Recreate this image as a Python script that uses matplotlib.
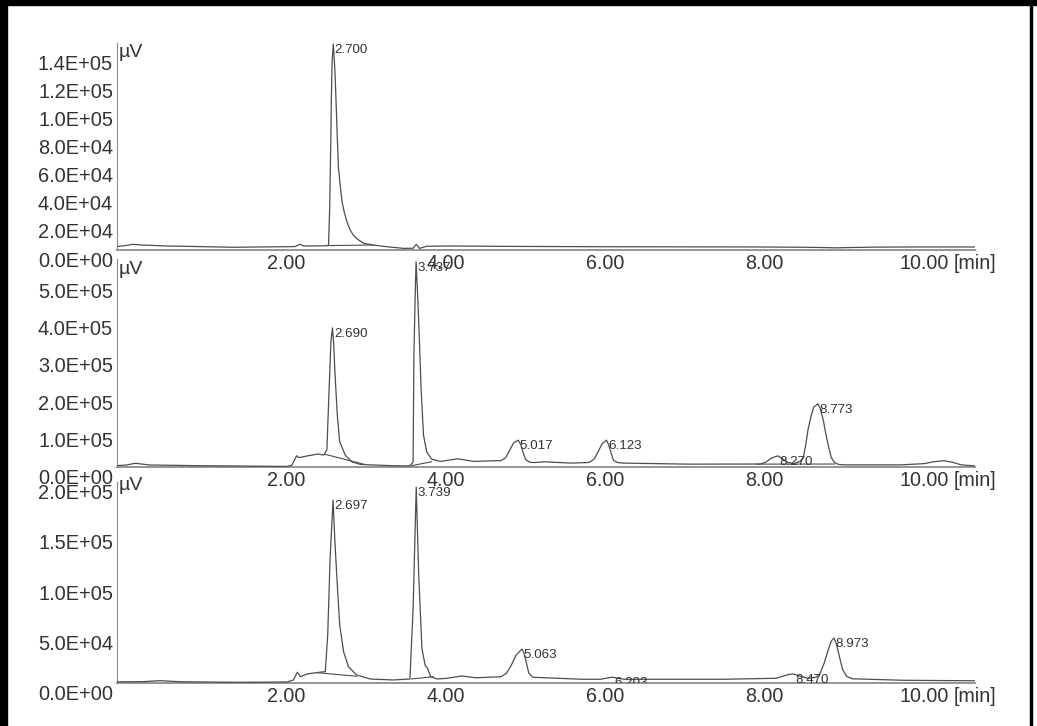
import numpy as np
import matplotlib
matplotlib.use("Agg")
import matplotlib.pyplot as plt
from matplotlib import transforms
from matplotlib.patches import Rectangle

plt.rcParams['font.family'] = ['Liberation Sans', 'DejaVu Sans']

# ---- data (time in min, signal in kilo-uV) ----
t1 = [0.00, 0.10, 0.19, 0.30, 0.61, 1.00, 1.44, 1.80, 2.12, 2.22, 2.28, 2.33, 2.45,
      2.62, 2.64, 2.655, 2.67, 2.675, 2.685, 2.700, 2.72, 2.735, 2.75, 2.765, 2.79,
      2.81, 2.84, 2.87, 2.91, 2.95, 3.00, 3.08, 3.20, 3.37, 3.58, 3.70, 3.74, 3.78,
      3.87, 4.16, 5.0, 6.0, 7.0, 8.0, 8.6, 9.0, 9.5, 10.0, 10.74]
v1 = [2.2, 2.8, 3.7, 3.2, 2.5, 2.1, 1.6, 1.8, 2.0, 2.1, 3.7, 2.5, 2.5,
      2.7, 3.0, 30, 81.6, 105, 134, 146.5, 128, 105, 80, 58, 44,
      34, 26, 20, 14, 10.3, 7.5, 4.4, 3.2, 2.0, 0.8, 0.9, 3.7, 0.8,
      2.3, 2.5, 2.2, 2.0, 1.9, 1.8, 1.6, 1.2, 1.7, 1.8, 1.8]

t2 = [0.00, 0.10, 0.22, 0.40, 1.03, 1.60, 2.12, 2.18, 2.24, 2.27, 2.37, 2.51, 2.58,
      2.62, 2.64, 2.655, 2.67, 2.690, 2.705, 2.72, 2.75, 2.78, 2.85, 2.93, 3.04, 3.20,
      3.45, 3.66, 3.70, 3.71, 3.725, 3.737, 3.755, 3.77, 3.80, 3.83, 3.87, 3.93, 4.04,
      4.26, 4.46, 4.75, 4.80, 4.86, 4.91, 4.96, 5.017, 5.05, 5.08, 5.11, 5.16, 5.22,
      5.35, 5.67, 5.89, 5.92, 5.97, 6.02, 6.07, 6.123, 6.15, 6.18, 6.21, 6.26, 6.33,
      7.14, 8.05, 8.12, 8.19, 8.270, 8.33, 8.40, 8.47, 8.55, 8.59, 8.62, 8.65, 8.69,
      8.72, 8.773, 8.80, 8.84, 8.87, 8.91, 8.94, 8.98, 9.03, 9.10, 9.81, 10.10, 10.22,
      10.35, 10.47, 10.57, 10.74]
v2 = [4, 5, 10, 5.4, 3.5, 2.5, 1.5, 4.5, 30, 25, 29.6, 35, 32,
      46, 167, 250, 337, 374, 330, 256, 140, 68, 32, 14, 7, 5.4,
      3.5, 2.7, 14, 301, 450, 552, 470, 391, 212, 86, 41, 21.5, 15,
      22, 15, 17, 17, 25, 45, 65, 72, 60, 38, 20, 13, 12,
      14, 10.5, 12, 14, 22, 42, 63, 72, 60, 38, 18, 12, 10.5,
      7.7, 8, 13, 24, 30, 22, 12, 9, 15, 27, 60, 103, 140,
      161, 170, 158, 125, 90, 50, 25, 12, 7, 5.7, 5.7, 9, 14,
      17, 12, 5.7, 3]

t3 = [0.00, 0.30, 0.53, 0.80, 1.50, 2.12, 2.20, 2.25, 2.29, 2.37, 2.49, 2.60, 2.63,
      2.66, 2.697, 2.72, 2.75, 2.78, 2.83, 2.89, 2.99, 3.16, 3.45, 3.66, 3.70, 3.739,
      3.77, 3.81, 3.85, 3.88, 3.92, 4.00, 4.12, 4.31, 4.48, 4.80, 4.87, 4.93, 4.99,
      5.063, 5.09, 5.12, 5.15, 5.20, 5.82, 6.05, 6.15, 6.203, 6.26, 6.35, 7.60, 8.25,
      8.35, 8.42, 8.470, 8.55, 8.65, 8.75, 8.80, 8.85, 8.90, 8.94, 8.973, 9.00, 9.04,
      9.08, 9.13, 9.20, 9.84, 10.74]
v3 = [1.5, 1.6, 2.6, 1.5, 1.0, 1.3, 3.3, 11, 6.6, 9.2, 10.6, 11.6, 48,
      124, 182, 141, 98, 58, 31, 16.5, 8.3, 4.3, 3.3, 4.3, 74, 195,
      108, 35, 18, 15, 6.6, 4.3, 4.9, 7.3, 5.5, 6.5, 10, 18, 28,
      34, 30, 20, 10, 6, 4, 4, 5.5, 6, 5, 4, 4.0, 5,
      7.5, 9, 9.2, 7, 5, 6, 10, 20, 33, 42, 45, 40, 27,
      14, 7, 4.5, 3, 2.5]

# integration baselines (t0, v0, t1, v1)
base1 = [(2.64, 2.8, 3.20, 3.2)]
base2 = [(2.60, 34, 3.10, 6.5), (3.68, 3.5, 3.93, 14), (8.00, 7.7, 8.98, 8)]
base3 = [(2.49, 10.6, 2.99, 7.0), (3.68, 4.3, 3.95, 6.5)]

peaks1 = [2.700]
peaks2 = [2.690, 3.737, 5.017, 6.123, 8.270, 8.773]
peaks3 = [2.697, 3.739, 5.063, 6.203, 8.470, 8.973]

yticks1 = [0, 20e3, 40e3, 60e3, 80e3, 100e3, 120e3, 140e3]
yticks2 = [0, 1e5, 2e5, 3e5, 4e5, 5e5]
yticks3 = [0, 5e4, 1e5, 1.5e5, 2e5]
xticks = [2, 4, 6, 8, 10]

W, H = 1037, 726
trace_c = '#4d4d4d'
axis_c = '#8c8c8c'
text_c = '#333333'

fig = plt.figure(figsize=(W / 100, H / 100), dpi=100)
fig.patch.set_facecolor('white')


def panel(top, bottom, t, v, ymax, yticks, peaks, bases, uv_off):
    ax = fig.add_axes([117 / W, 1 - bottom / H, (975 - 117) / W, (bottom - top) / H])
    ax.patch.set_alpha(0)
    t = np.array(t)
    v = np.array(v) * 1000
    ax.plot(t, v, color=trace_c, lw=0.9, zorder=3)
    for a, b, c, d in bases:
        ax.plot([a, c], [b * 1000, d * 1000], color=trace_c, lw=0.8, zorder=2)
    ax.set_xlim(-0.01, 10.74)
    ax.set_ylim(0, ymax)
    ax.set_xticks([])
    ax.set_yticks([])
    ax.spines['top'].set_visible(False)
    ax.spines['right'].set_visible(False)
    ax.spines['left'].set_color(axis_c)
    ax.spines['left'].set_linewidth(0.8)
    ax.spines['bottom'].set_color(axis_c)
    ax.spines['bottom'].set_linewidth(1.3)

    ytr = transforms.offset_copy(ax.get_yaxis_transform(), fig=fig, x=-4, y=-11.5, units='dots')
    for yv in yticks:
        ax.text(0, yv, f'{yv:.1E}', transform=ytr, ha='right', va='center',
                fontsize=14.4, color=text_c, clip_on=False)
    xtr = transforms.offset_copy(ax.get_xaxis_transform(), fig=fig, x=8.5, y=-13.5, units='dots')
    for xv in xticks:
        ax.text(xv, 0, f'{xv:.2f}', transform=xtr, ha='center', va='center',
                fontsize=14.2, color=text_c, clip_on=False)
    mtr = transforms.offset_copy(ax.transAxes, fig=fig, x=0, y=-13.5, units='dots')
    ax.text(1.0, 0, '[min]', transform=mtr, ha='center', va='center',
            fontsize=14.2, color=text_c, clip_on=False)
    utr = transforms.offset_copy(ax.transAxes, fig=fig, x=2, y=-uv_off, units='dots')
    ax.text(0, 1, 'µV', transform=utr, ha='left', va='center',
            fontsize=14, color=text_c, clip_on=False)

    ptr = transforms.offset_copy(ax.transData, fig=fig, x=1.5, y=0, units='dots')
    for p in peaks:
        ax.text(p, np.interp(p, t, v), f'{p:.3f}', transform=ptr, ha='left', va='top',
                fontsize=9.6, color=text_c, clip_on=True)
    return ax


panel(42.7, 249.5, t1, v1, 147.4e3, yticks1, peaks1, base1, 10)
panel(259, 467, t2, v2, 559e3, yticks2, peaks2, base2, 10)
panel(482, 683.3, t3, v3, 200e3, yticks3, peaks3, base3, 4)

# scan frame
fig.add_artist(Rectangle((0, 0), 7 / W, 1, transform=fig.transFigure, color='black'))
fig.add_artist(Rectangle((0, 1 - 5 / H), 1, 5 / H, transform=fig.transFigure, color='black'))
fig.add_artist(Rectangle((1030 / W, 0), 2 / W, 1, transform=fig.transFigure, color='black'))

fig.savefig('out.png', dpi=100)
